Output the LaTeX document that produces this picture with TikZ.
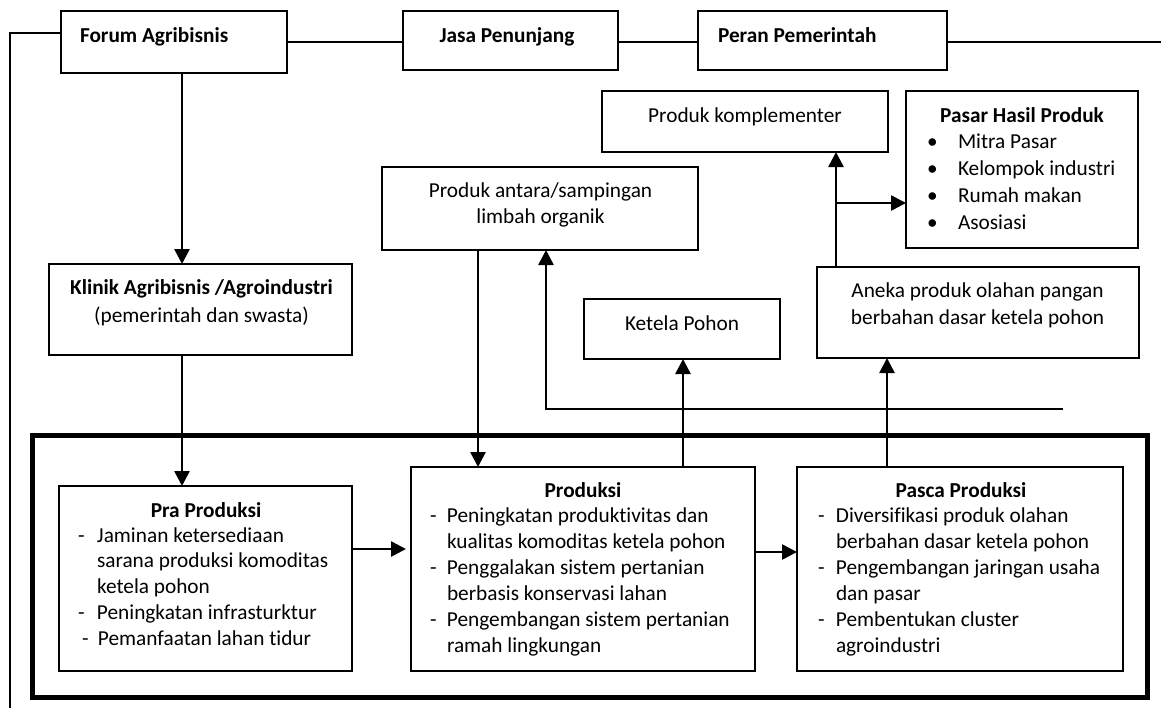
\documentclass[tikz,border=0pt]{standalone}
\usepackage{fontspec}
\setmainfont{Carlito}[Ligatures=NoCommon]
\usetikzlibrary{arrows.meta}
\newcommand{\ctrline}[1]{\hbox to 0pt{\hss#1\hss}}
\newcommand{\bul}[1]{\hbox{\hbox to 31pt{•\hss}#1}}
\newcommand{\dit}[2]{\hbox{\hbox to #1{-\hss}#2}}
\newcommand{\cit}[2]{\hbox{\kern#1\relax #2}}
\begin{document}
\begin{tikzpicture}[x=1pt,y=-1pt,
  every node/.style={font=\fontsize{21.3pt}{26pt}\selectfont},
  box/.style={draw, line width=1.6pt, inner sep=0pt, outer sep=0pt, anchor=north west},
  thickbox/.style={draw, line width=5pt, inner sep=0pt, outer sep=0pt, anchor=north west},
  txt/.style={inner sep=0pt, outer sep=0pt, anchor=base west},
  conn/.style={line width=1.6pt},
  arr/.style={line width=2.6pt, -{Triangle[length=15pt,width=15pt]}},
]
\useasboundingbox (0,0) rectangle (1161,713);

% outer thick frame
\node[thickbox, minimum width=1115pt, minimum height=262pt] (frame) at (32,435) {};

% boxes
\node[box, minimum width=226pt, minimum height=62pt] (forum) at (61,11) {};
\node[box, minimum width=215pt, minimum height=59pt] (jasa) at (403,11) {};
\node[box, minimum width=249pt, minimum height=59pt] (peran) at (698,11) {};
\node[box, minimum width=286pt, minimum height=61pt] (komp) at (602,91) {};
\node[box, minimum width=232pt, minimum height=157pt] (pasar) at (906,91) {};
\node[box, minimum width=316pt, minimum height=83pt] (antara) at (382,167) {};
\node[box, minimum width=303pt, minimum height=91pt] (klinik) at (49,264) {};
\node[box, minimum width=322pt, minimum height=91pt] (aneka) at (817,267) {};
\node[box, minimum width=196pt, minimum height=60pt] (ketela) at (584,299) {};
\node[box, minimum width=293pt, minimum height=185pt] (pra) at (59,486) {};
\node[box, minimum width=344pt, minimum height=204pt] (prod) at (411,467) {};
\node[box, minimum width=326pt, minimum height=204pt] (pasca) at (797,467) {};

% plain connectors
\coordinate (lb) at (10,708);
\draw[conn] ([yshift=9pt]forum.west) -- ([yshift=9pt]forum.west -| lb) -- (lb);
\draw[conn] (forum.east) -- (forum.east -| jasa.west);
\draw[conn] ([yshift=-1.5pt]jasa.east) -- ([yshift=-1.5pt]jasa.east -| peran.west);
\coordinate (re) at (1161,42);
\draw[conn] (peran.east |- re) -- (re);

% arrows
\coordinate (ax) at (182,0);
\draw[arr] (forum.south -| ax) -- (klinik.north -| ax);
\draw[arr] (klinik.south -| ax) -- (pra.north -| ax);
\draw[arr, shorten >=5pt] (pra.east |- 0,549) -- (prod.west |- 0,549);
\draw[arr] (prod.east |- 0,552) -- (pasca.west |- 0,552);
\draw[arr] (antara.south -| 478,0) -- (prod.north -| 478,0);
\draw[arr] (prod.north -| 683,0) -- (ketela.south -| 683,0);
\coordinate (fb) at (1063,409);
\draw[arr] (fb) -- (fb -| 546,0) -- (antara.south -| 546,0);
\draw[arr] (pasca.north -| 887,0) -- (aneka.south -| 887,0);
\draw[arr] (aneka.north -| 836,0) -- (komp.south -| 836,0);
\coordinate (br) at (836,203);
\draw[arr] (br) -- (br -| pasar.west);

% texts
\node[txt] (tforum) at (80,42) {\bfseries Forum Agribisnis};
\node[txt, anchor=base] (tjasa) at (507,42) {\bfseries Jasa Penunjang};
\node[txt] (tperan) at (718,42) {\bfseries Peran Pemerintah};
\node[txt, anchor=base] (tkomp) at (745,122) {Produk komplementer};
\node[txt, anchor=base] (tpasar) at (1022,122) {\bfseries Pasar Hasil Produk};
\node[txt] (lpasar) at (927,148) {\vtop{\baselineskip=27pt \bul{Mitra Pasar}\bul{Kelompok industri}\bul{Rumah makan}\bul{Asosiasi}}};
\node[txt] (tantara) at (540,197) {\vtop{\baselineskip=26pt \ctrline{Produk antara/sampingan}\ctrline{limbah organik}}};
\node[txt] (tklinik) at (201,294) {\vtop{\baselineskip=28pt \ctrline{\bfseries Klinik Agribisnis /Agroindustri}\ctrline{(pemerintah dan swasta)}}};
\node[txt, anchor=base] (tketela) at (682,330) {Ketela Pohon};
\node[txt] (taneka) at (977,297) {\vtop{\baselineskip=27pt \ctrline{Aneka produk olahan pangan}\ctrline{berbahan dasar ketela pohon}}};

\node[txt, anchor=base] (hpra) at (206,517) {\bfseries Pra Produksi};
\node[txt] (lpra) at (78,542) {\vtop{\baselineskip=25.75pt
  \dit{19pt}{Jaminan ketersediaan}
  \cit{19pt}{sarana produksi komoditas}
  \cit{19pt}{ketela pohon}
  \dit{19pt}{Peningkatan infrasturktur}
  \hbox{\kern4pt\hbox to 16pt{-\hss}Pemanfaatan lahan tidur}}};

\node[txt, anchor=base] (hprod) at (583,497) {\bfseries Produksi};
\node[txt] (lprod) at (430,522) {\vtop{\baselineskip=26pt
  \dit{17pt}{Peningkatan produktivitas dan}
  \cit{17pt}{kualitas komoditas ketela pohon}
  \dit{17pt}{Penggalakan sistem pertanian}
  \cit{17pt}{berbasis konservasi lahan}
  \dit{17pt}{Pengembangan sistem pertanian}
  \cit{17pt}{ramah lingkungan}}};

\node[txt, anchor=base] (hpasca) at (961,497) {\bfseries Pasca Produksi};
\node[txt] (lpasca) at (818,522) {\vtop{\baselineskip=26pt
  \dit{18pt}{Diversifikasi produk olahan}
  \cit{18pt}{berbahan dasar ketela pohon}
  \dit{18pt}{Pengembangan jaringan usaha}
  \cit{18pt}{dan pasar}
  \dit{18pt}{Pembentukan cluster}
  \cit{18pt}{agroindustri}}};
\end{tikzpicture}
\end{document}
